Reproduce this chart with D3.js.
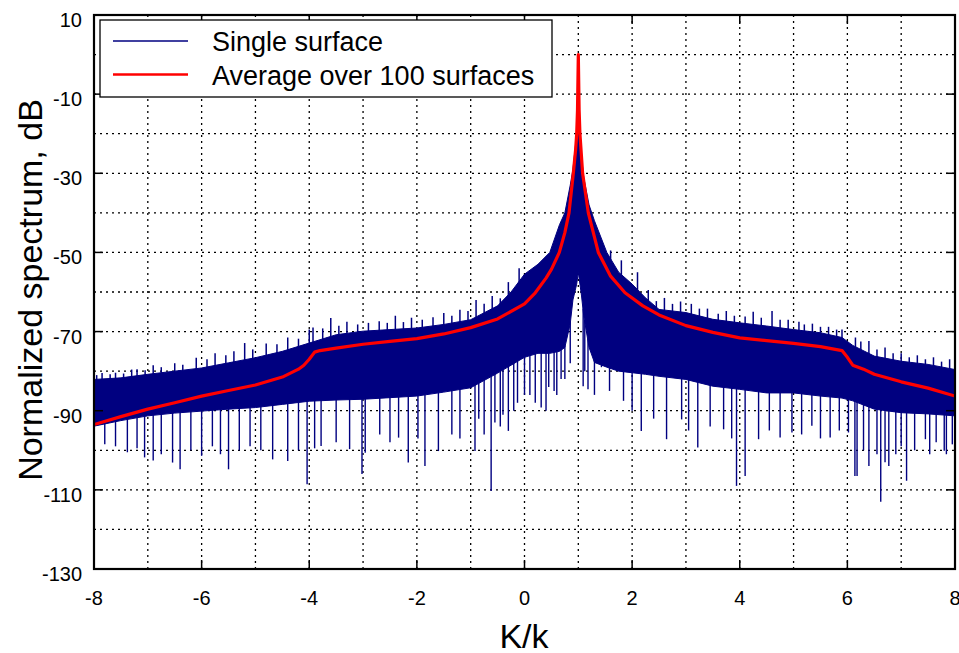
<!DOCTYPE html>
<html lang="en">
<head>
<meta charset="UTF-8" />
<title>Normalized spectrum</title>
<script src="https://d3js.org/d3.v7.min.js"></script>
<style>
  body { margin: 0; background: #fff; }
  svg text { font-family: "Liberation Sans", Arial, sans-serif; fill: #000; }
</style>
</head>
<body>
<div id="chart"></div>
<script>
// --- Data ---
// averaged spectrum (red), K/k -> dB
const avgK  = [-8, -7.5, -7, -6.5, -6, -5.5, -5, -4.5, -4.2, -4.1, -4.0, -3.9, -3.8, -3.5, -3, -2.5, -2, -1.5, -1, -0.5, 0, 0.2, 0.4, 0.5, 0.647, 0.75, 0.827, 0.907, 0.95, 0.97, 0.985, 1.0, 1.015, 1.03, 1.08, 1.186, 1.372, 1.6, 1.868, 2.2, 2.5, 3, 3.5, 4, 4.5, 5, 5.5, 5.9, 6.0, 6.1, 6.3, 6.5, 7, 7.5, 8];
const avgDb = [-93.5, -91.5, -89.6, -88, -86.3, -84.9, -83.5, -81.5, -79.5, -78.5, -77, -75.2, -74.8, -74.2, -73.2, -72.5, -71.8, -70.6, -69.0, -66.8, -63, -60.2, -56.5, -54.3, -50, -45, -40, -30, -24, -20, -14, 0, -14, -20, -30, -40, -50, -56, -60.2, -63.5, -65.8, -68.5, -70.2, -71.6, -72.3, -73.0, -73.8, -74.8, -76.5, -78.5, -79.5, -80.8, -82.7, -84.3, -86.3];

// single surface (blue): dense band, top and bottom edge
const bandK   = [-8, -7.5, -7, -6.5, -6, -5.5, -5, -4.5, -4, -3.5, -3, -2.5, -2, -1.5, -1, -0.5, -0.25, 0, 0.25, 0.47, 0.65, 0.75, 0.85, 0.9, 0.97, 1.0, 1.03, 1.06, 1.1, 1.2, 1.3, 1.53, 1.75, 2, 2.25, 2.5, 3, 3.5, 4, 4.5, 5, 5.5, 5.9, 6.1, 6.5, 7, 7.5, 8];
const bandTop = [-82.1, -81.7, -80.8, -80, -79.2, -77.9, -76.6, -75, -72.9, -70.8, -69.9, -69.5, -69.1, -68.2, -67, -63.5, -60, -55.5, -53, -50, -43, -40, -33, -29, -20, -19.5, -21, -26, -31, -38, -42, -50, -55, -58, -61.5, -64.4, -65.2, -66.9, -67.8, -68.6, -69.5, -70.3, -71.5, -73.5, -76.2, -77.5, -78.3, -79.6];
const bandBot = [-93.9, -92.5, -91.3, -90.6, -90.1, -89.6, -89.2, -88.4, -87.6, -87.3, -87.1, -86.7, -86.3, -85.3, -84.2, -80.5, -78.5, -76.5, -75.5, -75.5, -75, -74, -68, -62, -58, -55, -58, -61, -66, -74, -77.8, -79, -80, -80.4, -80.8, -81.3, -82.1, -83.8, -84.6, -85.5, -85.5, -86.3, -86.8, -87.5, -89.6, -90.5, -90.8, -91.3];

// spikes rising above the band
const upK  = [-7.95, -7.85, -7.7, -7.6, -7.45, -7.3, -7.2, -7.05, -6.9, -6.75, -6.5, -6.35, -6.1, -5.9, -5.75, -5.55, -5.4, -5.2, -5.05, -4.8, -4.6, -4.4, -4.2, -4.0, -3.93, -3.75, -3.6, -3.45, -3.3, -3.1, -2.9, -2.7, -2.55, -2.4, -2.25, -2.1, -1.9, -1.7, -1.5, -1.35, -1.2, -1.05, -0.9, -0.75, -0.6, -0.45, -0.3, -0.1, 1.6, 1.8, 2.1, 2.3, 2.45, 2.6, 2.75, 2.9, 3.1, 3.25, 3.4, 3.6, 3.75, 3.9, 4.1, 4.25, 4.4, 4.6, 4.75, 4.9, 5.1, 5.2, 5.35, 5.5, 5.65, 5.8, 5.9, 6.15, 6.25, 6.4, 6.55, 6.7, 6.85, 7.0, 7.15, 7.3, 7.45, 7.6, 7.75, 7.9];
const upDb = [-81, -80.5, -80.8, -80.4, -80.6, -79.6, -79.5, -79.8, -78.5, -79, -78, -78.4, -76.6, -77, -75.5, -76, -75, -72.9, -74.5, -73, -73.2, -71.5, -71.8, -69.5, -69, -69.2, -66.6, -68.5, -67.5, -68.2, -67.8, -67.4, -67.8, -66, -67.6, -66.5, -67, -66.4, -65.3, -66, -64.5, -64.8, -62, -63, -61, -61.6, -57.5, -54, -49.5, -52, -55, -59.5, -62.3, -61.5, -63, -62.4, -63, -64.2, -64.2, -65.5, -64.8, -66, -66.2, -65, -66.5, -64.8, -67, -67, -67.5, -68.2, -68, -68.8, -68.8, -69.5, -69.5, -71.5, -72.5, -72.4, -74.5, -74, -75.5, -75.5, -76.5, -76, -77, -76.5, -77.6, -77];

// spikes dropping below the band
const downK  = [-7.8, -7.6, -7.38, -7.2, -7.06, -6.9, -6.75, -6.54, -6.4, -6.2, -6.0, -5.8, -5.65, -5.5, -5.3, -5.1, -4.9, -4.68, -4.4, -4.2, -4.04, -3.9, -3.78, -3.5, -3.25, -3.02, -2.96, -2.69, -2.5, -2.34, -2.16, -1.98, -1.85, -1.6, -1.35, -1.2, -0.92, -0.85, -0.75, -0.62, -0.55, -0.45, -0.4, -0.3, -0.2, -0.13, 0.0, 0.1, 0.2, 0.31, 0.4, 0.45, 0.55, 0.6, 0.68, 0.75, 0.85, 1.09, 1.12, 1.18, 1.3, 1.43, 1.58, 1.84, 2.0, 2.17, 2.4, 2.64, 2.92, 3.05, 3.22, 3.45, 3.7, 3.85, 3.94, 4.1, 4.35, 4.55, 4.75, 4.97, 5.15, 5.34, 5.5, 5.68, 5.85, 6.02, 6.14, 6.18, 6.3, 6.4, 6.55, 6.62, 6.7, 6.77, 6.9, 7.0, 7.1, 7.25, 7.45, 7.53, 7.65, 7.8, 7.84, 7.95];
const downDb = [-98.5, -99, -100.5, -99.5, -101.8, -102.6, -101, -103.1, -104.8, -100, -101.4, -99, -101, -104.8, -100, -99, -100, -102.3, -102.7, -100, -108.6, -99.5, -98.9, -98, -99.7, -106, -100.6, -96, -98, -96.8, -103.1, -97, -104, -100.2, -96, -97, -100.2, -92, -96, -110.3, -93, -94, -91, -95.1, -90, -88, -86, -86, -88, -89.2, -90, -84, -85, -86, -82, -82, -78, -83.8, -80, -84.6, -86, -79, -85, -87.5, -90, -95.1, -92, -97.2, -92.2, -95, -99.3, -94, -94.7, -97, -109, -106.5, -97.2, -95, -96.8, -95.5, -96, -93.8, -97, -96.8, -95, -95.5, -106.5, -106.5, -100, -104, -101, -113, -103, -104, -101, -99, -107.7, -100, -97.2, -101, -98, -100.1, -101, -98.5];

const xTicks = [-8, -6, -4, -2, 0, 2, 4, 6, 8];
const yTicks = [10, -10, -30, -50, -70, -90, -110, -130];
const xGrid = d3.range(-7, 8, 1);
const yGrid = d3.range(-120, 10, 10);

const legendLabels = ["Single surface", "Average over 100 surfaces"];
const navy = "#000080";
const red = "#ff0000";

// --- Setup ---
const W = 959, H = 653;
const mLeft = 94, mRight = 955, mTop = 15, mBottom = 569;

const svg = d3.select("#chart").append("svg")
    .attr("width", W)
    .attr("height", H);

const x = d3.scaleLinear().domain([-8, 8]).range([mLeft, mRight]);
const y = d3.scaleLinear().domain([-130, 10]).range([mBottom, mTop]);

svg.append("defs").append("clipPath").attr("id", "clip")
    .append("rect")
    .attr("x", mLeft).attr("y", mTop)
    .attr("width", mRight - mLeft).attr("height", mBottom - mTop);

// Grid (dotted)
const grid = svg.append("g")
    .attr("stroke", "#000")
    .attr("stroke-width", 1.3)
    .attr("stroke-dasharray", "2,4");
grid.selectAll("line.gx").data(xGrid).join("line")
    .attr("class", "gx")
    .attr("x1", d => x(d)).attr("x2", d => x(d))
    .attr("y1", mTop).attr("y2", mBottom);
grid.selectAll("line.gy").data(yGrid).join("line")
    .attr("class", "gy")
    .attr("y1", d => y(d)).attr("y2", d => y(d))
    .attr("x1", mLeft).attr("x2", mRight);

// helper: linear lookup on the band edges
function lookup(xs, ys, k) {
    const i = Math.max(1, Math.min(xs.length - 1, d3.bisectLeft(xs, k)));
    const t = (k - xs[i - 1]) / (xs[i] - xs[i - 1]);
    return ys[i - 1] + t * (ys[i] - ys[i - 1]);
}

const plot = svg.append("g").attr("clip-path", "url(#clip)");

// Blue: dense band
const band = bandK.map((k, i) => ({k, t: bandTop[i], b: bandBot[i]}));
plot.append("path")
    .datum(band)
    .attr("fill", navy)
    .attr("stroke", navy)
    .attr("stroke-width", 1)
    .attr("d", d3.area().x(d => x(d.k)).y0(d => y(d.b)).y1(d => y(d.t)));

// Blue: spikes
plot.append("g").selectAll("line").data(upK.map((k, i) => ({k, v: upDb[i]}))).join("line")
    .attr("x1", d => x(d.k)).attr("x2", d => x(d.k))
    .attr("y1", d => y(lookup(bandK, bandTop, d.k)) + 2)
    .attr("y2", d => y(d.v))
    .attr("stroke", navy).attr("stroke-width", 1.5);

plot.append("g").selectAll("line").data(downK.map((k, i) => ({k, v: downDb[i]}))).join("line")
    .attr("x1", d => x(d.k)).attr("x2", d => x(d.k))
    .attr("y1", d => y(lookup(bandK, bandBot, d.k)) - 2)
    .attr("y2", d => y(d.v))
    .attr("stroke", navy).attr("stroke-width", 1.4);

// Red: average
plot.append("path")
    .datum(avgK.map((k, i) => [k, avgDb[i]]))
    .attr("fill", "none")
    .attr("stroke", red)
    .attr("stroke-width", 3.2)
    .attr("stroke-linejoin", "round")
    .attr("d", d3.line().x(d => x(d[0])).y(d => y(d[1])));

// Ticks (inward, on all four sides)
const ticks = svg.append("g").attr("stroke", "#000").attr("stroke-width", 1.5);
xTicks.forEach(t => {
    ticks.append("line").attr("x1", x(t)).attr("x2", x(t)).attr("y1", mBottom).attr("y2", mBottom - 9);
    ticks.append("line").attr("x1", x(t)).attr("x2", x(t)).attr("y1", mTop).attr("y2", mTop + 9);
});
yTicks.forEach(t => {
    ticks.append("line").attr("y1", y(t)).attr("y2", y(t)).attr("x1", mLeft).attr("x2", mLeft + 9);
    ticks.append("line").attr("y1", y(t)).attr("y2", y(t)).attr("x1", mRight).attr("x2", mRight - 9);
});

// Frame
svg.append("rect")
    .attr("x", mLeft).attr("y", mTop)
    .attr("width", mRight - mLeft).attr("height", mBottom - mTop)
    .attr("fill", "none")
    .attr("stroke", "#000")
    .attr("stroke-width", 2.2);

// Tick labels
svg.append("g").selectAll("text").data(xTicks).join("text")
    .attr("x", d => x(d))
    .attr("y", 605)
    .attr("text-anchor", "middle")
    .attr("font-size", 20)
    .text(d => d);

svg.append("g").selectAll("text").data(yTicks).join("text")
    .attr("x", 82)
    .attr("y", d => y(d) + 12)
    .attr("text-anchor", "end")
    .attr("font-size", 20)
    .text(d => d);

// Axis titles
svg.append("text")
    .attr("x", 524)
    .attr("y", 648)
    .attr("text-anchor", "middle")
    .attr("font-size", 34)
    .text("K/k");

svg.append("text")
    .attr("transform", "translate(42,290) rotate(-90)")
    .attr("text-anchor", "middle")
    .attr("font-size", 34)
    .text("Normalized spectrum, dB");

// Legend
const legend = svg.append("g");
legend.append("rect")
    .attr("x", 100).attr("y", 20)
    .attr("width", 452).attr("height", 77)
    .attr("fill", "#fff")
    .attr("stroke", "#000")
    .attr("stroke-width", 1.3);

const legendColors = [navy, red];
const legendWidths = [1.6, 2.4];
legendLabels.forEach((label, i) => {
    const ly = 41 + i * 33.5;
    legend.append("line")
        .attr("x1", 113).attr("x2", 188)
        .attr("y1", ly).attr("y2", ly)
        .attr("stroke", legendColors[i])
        .attr("stroke-width", legendWidths[i]);
    legend.append("text")
        .attr("x", 212)
        .attr("y", ly + 10)
        .attr("font-size", 27)
        .text(label);
});
</script>
</body>
</html>
